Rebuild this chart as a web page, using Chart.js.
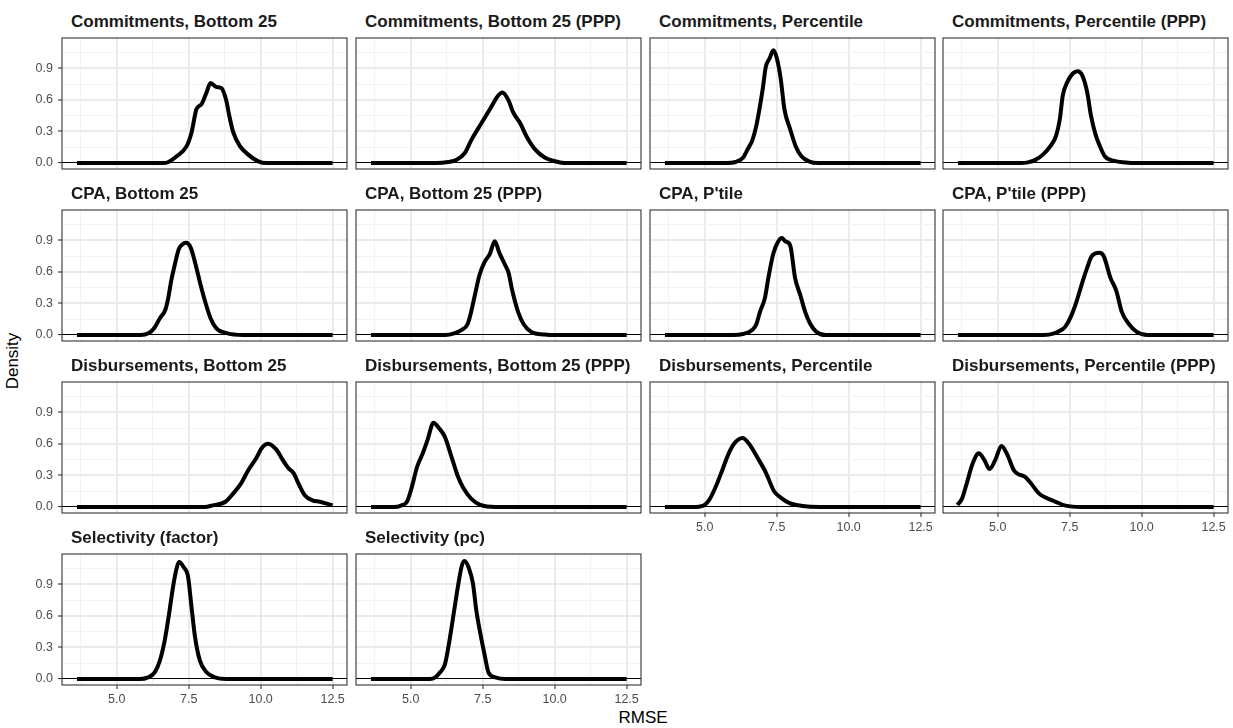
<!DOCTYPE html>
<html lang="en">
<head>
<meta charset="UTF-8">
<title>RMSE densities</title>
<script src="https://cdn.jsdelivr.net/npm/chart.js"></script>
<style>
  body { margin: 0; background: #fff; font-family: "Liberation Sans", Arial, sans-serif; }
  #wrap { position: relative; width: 1233px; height: 728px; overflow: hidden; }
  #wrap canvas { position: absolute; }
  .strip { position: absolute; font-size: 17px; font-weight: bold; color: #1a1a1a; line-height: 17px; white-space: nowrap; }
  .axis-title { position: absolute; font-size: 17px; color: #000; line-height: 17px; white-space: nowrap; transform: translate(-50%, -50%); }
</style>
</head>
<body>
<div id="wrap">
  <div class="axis-title" style="left:12px; top:361px; transform: translate(-50%, -50%) rotate(-90deg);">Density</div>
  <div class="axis-title" style="left:643px; top:717px;">RMSE</div>
</div>

<script>
// panel titles (facet strips), in reading order
const panelTitles = [
  "Commitments, Bottom 25", "Commitments, Bottom 25 (PPP)", "Commitments, Percentile", "Commitments, Percentile (PPP)",
  "CPA, Bottom 25", "CPA, Bottom 25 (PPP)", "CPA, P'tile", "CPA, P'tile (PPP)",
  "Disbursements, Bottom 25", "Disbursements, Bottom 25 (PPP)", "Disbursements, Percentile", "Disbursements, Percentile (PPP)",
  "Selectivity (factor)", "Selectivity (pc)"
];

// density curves, [RMSE, density]
const commitB25 = [[3.62,0],[6.6,0],[6.8,0.01],[7.08,0.064],[7.43,0.16],[7.6,0.29],[7.77,0.51],[7.95,0.56],[8.12,0.67],[8.26,0.76],[8.47,0.72],[8.64,0.71],[8.8,0.6],[8.91,0.45],[9.05,0.29],[9.28,0.16],[9.57,0.08],[9.92,0.016],[10.2,0],[12.5,0]];
const commitB25PPP = [[3.62,0],[5.9,0],[6.3,0.01],[6.59,0.03],[6.88,0.095],[7.11,0.22],[7.46,0.38],[7.75,0.51],[8.04,0.64],[8.18,0.67],[8.39,0.6],[8.56,0.48],[8.8,0.38],[9.03,0.25],[9.32,0.13],[9.67,0.05],[10.19,0.006],[10.5,0],[12.5,0]];
const commitPct = [[3.62,0],[5.74,0],[6.07,0.01],[6.33,0.05],[6.49,0.13],[6.66,0.22],[6.79,0.35],[6.92,0.54],[7.03,0.73],[7.12,0.91],[7.25,0.99],[7.39,1.07],[7.51,0.99],[7.64,0.8],[7.77,0.51],[7.97,0.32],[8.16,0.16],[8.36,0.064],[8.62,0.016],[8.95,0],[12.5,0]];
const commitPctPPP = [[3.62,0],[5.79,0],[6.05,0.006],[6.31,0.03],[6.57,0.08],[6.83,0.16],[7.03,0.26],[7.16,0.42],[7.26,0.64],[7.42,0.77],[7.61,0.85],[7.77,0.87],[7.94,0.83],[8.11,0.67],[8.24,0.45],[8.4,0.27],[8.55,0.16],[8.72,0.064],[9.05,0.02],[9.44,0.006],[9.8,0],[12.5,0]];
const cpaB25 = [[3.62,0],[5.84,0],[6.1,0.016],[6.3,0.064],[6.5,0.16],[6.69,0.24],[6.79,0.35],[6.89,0.51],[7.02,0.67],[7.15,0.81],[7.28,0.86],[7.41,0.875],[7.57,0.83],[7.74,0.67],[7.91,0.48],[8.07,0.32],[8.26,0.16],[8.46,0.064],[8.79,0.02],[9.4,0],[12.5,0]];
const cpaB25PPP = [[3.62,0],[6.2,0],[6.51,0.016],[6.77,0.05],[6.97,0.1],[7.1,0.22],[7.23,0.38],[7.39,0.57],[7.56,0.69],[7.75,0.77],[7.92,0.89],[8.08,0.78],[8.27,0.67],[8.4,0.59],[8.53,0.42],[8.73,0.22],[8.93,0.1],[9.19,0.03],[9.65,0.006],[10,0],[12.5,0]];
const cpaPtile = [[3.62,0],[6.0,0],[6.33,0.01],[6.66,0.05],[6.79,0.1],[6.92,0.22],[7.09,0.35],[7.21,0.54],[7.38,0.77],[7.54,0.88],[7.68,0.92],[7.8,0.89],[7.97,0.85],[8.14,0.54],[8.32,0.38],[8.49,0.22],[8.66,0.11],[8.88,0.03],[9.2,0],[12.5,0]];
const cpaPtilePPP = [[3.62,0],[6.6,0],[6.96,0.016],[7.22,0.05],[7.35,0.08],[7.55,0.18],[7.74,0.32],[7.94,0.5],[8.11,0.64],[8.27,0.75],[8.53,0.78],[8.68,0.75],[8.92,0.54],[9.12,0.42],[9.31,0.22],[9.57,0.1],[9.83,0.03],[10.2,0],[12.5,0]];
const disbB25 = [[3.62,0],[8.06,0],[8.33,0.016],[8.78,0.05],[9.05,0.13],[9.31,0.22],[9.57,0.35],[9.84,0.46],[10.04,0.56],[10.26,0.6],[10.56,0.54],[10.76,0.45],[10.96,0.37],[11.15,0.32],[11.32,0.22],[11.54,0.11],[11.8,0.064],[12.06,0.05],[12.5,0.016]];
const disbB25PPP = [[3.62,0],[4.42,0],[4.68,0.016],[4.87,0.05],[5.04,0.19],[5.22,0.38],[5.42,0.51],[5.59,0.64],[5.79,0.8],[5.98,0.75],[6.18,0.67],[6.38,0.51],[6.64,0.29],[6.83,0.18],[7.1,0.08],[7.42,0.02],[7.95,0],[12.5,0]];
const disbPct = [[3.62,0],[4.56,0],[4.97,0.016],[5.14,0.06],[5.38,0.19],[5.61,0.35],[5.82,0.5],[6.02,0.6],[6.31,0.655],[6.54,0.6],[6.83,0.47],[7.12,0.33],[7.41,0.15],[7.64,0.09],[7.93,0.04],[8.4,0.01],[9.0,0],[12.5,0]];
const disbPctPPP = [[3.6,0.02],[3.76,0.08],[3.93,0.23],[4.1,0.39],[4.28,0.5],[4.34,0.51],[4.53,0.45],[4.72,0.36],[4.92,0.45],[5.13,0.58],[5.33,0.5],[5.56,0.35],[5.73,0.31],[5.93,0.29],[6.14,0.23],[6.43,0.13],[6.66,0.09],[7.01,0.05],[7.36,0.013],[7.88,0],[12.5,0]];
const selFactor = [[3.62,0],[5.8,0],[6.09,0.016],[6.32,0.064],[6.5,0.175],[6.67,0.37],[6.82,0.62],[6.96,0.88],[7.1,1.07],[7.17,1.11],[7.33,1.06],[7.48,0.97],[7.6,0.68],[7.72,0.4],[7.89,0.175],[8.12,0.064],[8.41,0.016],[8.8,0],[12.5,0]];
const selPc = [[3.62,0],[5.67,0],[5.85,0.016],[6.02,0.064],[6.19,0.14],[6.35,0.37],[6.51,0.65],[6.66,0.91],[6.78,1.08],[6.87,1.12],[7.01,1.06],[7.16,0.91],[7.28,0.65],[7.42,0.43],[7.56,0.24],[7.7,0.064],[7.94,0.016],[8.3,0],[12.5,0]];

const panelData = [commitB25, commitB25PPP, commitPct, commitPctPPP,
                   cpaB25, cpaB25PPP, cpaPtile, cpaPtilePPP,
                   disbB25, disbB25PPP, disbPct, disbPctPPP,
                   selFactor, selPc];

// axis ticks (major ones get labels, minor only grid lines)
const xTicks = [3.75, 5, 6.25, 7.5, 8.75, 10, 11.25, 12.5];
const xMajor = [5, 7.5, 10, 12.5];
const yTicks = [0, 0.15, 0.3, 0.45, 0.6, 0.75, 0.9, 1.05];
const yMajor = [0, 0.3, 0.6, 0.9];

// layout of the facet grid
const colLeft = [62, 356, 650, 943];
const rowTop = [38, 210, 382, 554];
const PW = 285, PH = 131;
const AXW = 60, AXH = 28, PAD = 2;
const FONT = '"Liberation Sans", Arial, sans-serif';

const isMajor = (v, list) => list.some(m => Math.abs(m - v) < 1e-6);

// fixed axis size, no extra room for overhanging labels
function fixSize(s, w, h) {
  if (w != null) s.width = w;
  if (h != null) s.height = h;
  s.paddingTop = 0; s.paddingBottom = 0; s.paddingLeft = 0; s.paddingRight = 0;
}

const panelBorder = {
  id: 'panelBorder',
  afterDatasetsDraw(chart) {
    const { ctx, chartArea: a } = chart;
    ctx.save();
    ctx.strokeStyle = '#333333';
    ctx.lineWidth = 1.1;
    ctx.strokeRect(a.left, a.top, a.right - a.left, a.bottom - a.top);
    ctx.restore();
  }
};

const wrap = document.getElementById('wrap');

panelData.forEach((pts, i) => {
  const col = i % 4, row = Math.floor(i / 4);
  const showX = row === 3 || (row === 2 && col >= 2);
  const showY = col === 0;

  const strip = document.createElement('div');
  strip.className = 'strip';
  strip.style.left = (colLeft[col] + 9) + 'px';
  strip.style.top = (rowTop[row] - 25) + 'px';
  strip.textContent = panelTitles[i];
  wrap.appendChild(strip);

  const cv = document.createElement('canvas');
  cv.width = PW + AXW + PAD;
  cv.height = PH + PAD + AXH;
  cv.style.left = (colLeft[col] - AXW) + 'px';
  cv.style.top = (rowTop[row] - PAD) + 'px';
  wrap.appendChild(cv);

  new Chart(cv.getContext('2d'), {
    type: 'line',
    data: {
      datasets: [{
        data: pts.map(p => ({ x: p[0], y: p[1] })),
        borderColor: '#000',
        borderWidth: 4,
        borderCapStyle: 'butt',
        pointRadius: 0,
        cubicInterpolationMode: 'monotone',
        fill: false
      }]
    },
    options: {
      responsive: false,
      animation: false,
      layout: { padding: { top: PAD, right: PAD, left: 0, bottom: 0 } },
      plugins: { legend: { display: false }, tooltip: { enabled: false } },
      scales: {
        x: {
          type: 'linear', min: 3.1, max: 13.0,
          afterBuildTicks: s => { s.ticks = xTicks.map(v => ({ value: v })); },
          afterFit: s => fixSize(s, null, AXH),
          border: { display: false },
          ticks: {
            display: showX, autoSkip: false, maxRotation: 0, padding: 3,
            color: '#4d4d4d', font: { size: 12.5, family: FONT },
            callback: v => isMajor(v, xMajor) ? v.toFixed(1) : ''
          },
          grid: {
            color: c => c.tick && isMajor(c.tick.value, xMajor) ? '#ebebeb' : '#f2f2f2',
            lineWidth: c => c.tick && isMajor(c.tick.value, xMajor) ? 2 : 1,
            drawTicks: showX, tickLength: 4, tickWidth: 1.1,
            tickColor: c => c.tick && isMajor(c.tick.value, xMajor) ? '#333333' : 'rgba(0,0,0,0)'
          }
        },
        y: {
          type: 'linear', min: -0.0565, max: 1.1865,
          afterBuildTicks: s => { s.ticks = yTicks.map(v => ({ value: v })); },
          afterFit: s => fixSize(s, AXW, null),
          border: { display: false },
          ticks: {
            display: showY, autoSkip: false, padding: 5,
            color: '#4d4d4d', font: { size: 12.5, family: FONT },
            callback: v => isMajor(v, yMajor) ? v.toFixed(1) : ''
          },
          grid: {
            color: c => {
              if (!c.tick) return '#f2f2f2';
              if (Math.abs(c.tick.value) < 1e-6) return '#000000';
              return isMajor(c.tick.value, yMajor) ? '#ebebeb' : '#f2f2f2';
            },
            lineWidth: c => {
              if (!c.tick) return 1;
              if (Math.abs(c.tick.value) < 1e-6) return 1.1;
              return isMajor(c.tick.value, yMajor) ? 2 : 1;
            },
            drawTicks: showY, tickLength: 4, tickWidth: 1.1,
            tickColor: c => c.tick && isMajor(c.tick.value, yMajor) ? '#333333' : 'rgba(0,0,0,0)'
          }
        }
      }
    },
    plugins: [panelBorder]
  });
});
</script>
</body>
</html>
